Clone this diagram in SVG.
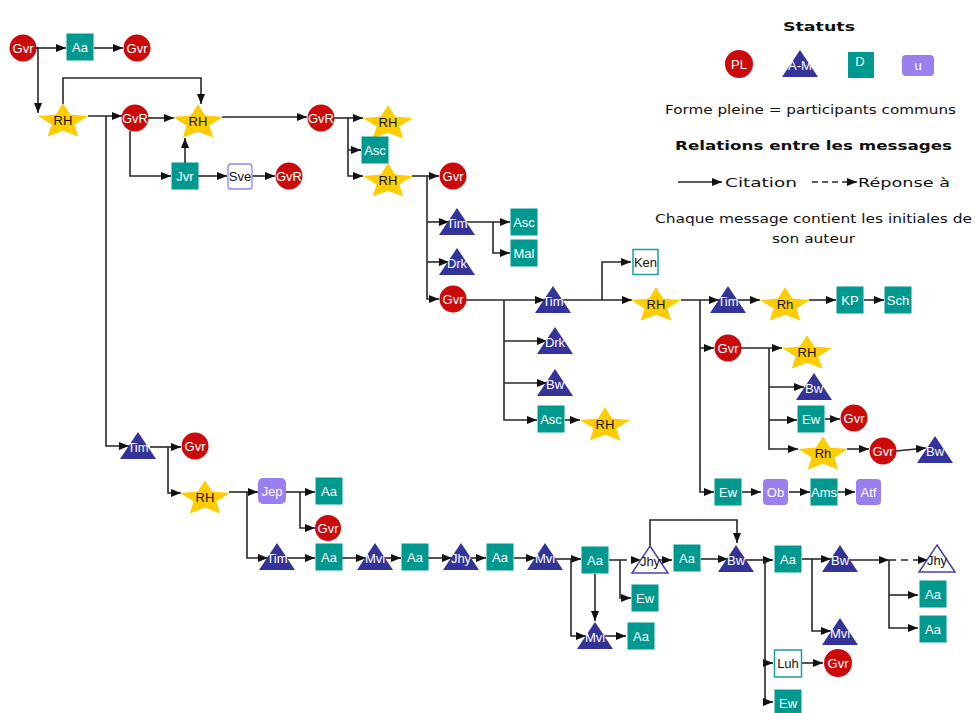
<svg xmlns="http://www.w3.org/2000/svg" xmlns:xlink="http://www.w3.org/1999/xlink" width="975" height="713" viewBox="0 0 975 713">
<style>
.e{fill:none;stroke:#2d2626;stroke-width:1.6;marker-end:url(#ah)}
.d{stroke-dasharray:7 5}
.c{fill:#cc0a0a}
.s{fill:#00998f}
.t{fill:#333399}
.p{fill:#9980ee}
.y{fill:#ffcc00}
.h{fill:#fff;stroke:#4444aa;stroke-width:1.5}
.w{fill:#fff;stroke:#1a9e9e;stroke-width:1.5}
.v{fill:#fff;stroke:#8888ff;stroke-width:1.3}
text{font-family:"Liberation Sans",Arial,sans-serif;font-size:13px;text-anchor:middle}
.lw{fill:#fff}
.lb{fill:#111}
.g{font-family:"DejaVu Sans","Noto Sans",sans-serif;fill:#111;text-anchor:start}
</style>
<defs>
<marker id="ah" viewBox="0 0 10 8" refX="10" refY="4" markerWidth="10" markerHeight="8" markerUnits="userSpaceOnUse" orient="auto"><path d="M0,0 L10,4 L0,8 Z" fill="#111"/></marker>
<path id="star" d="M0,-16.8 L7.1,-5.6 L25,-3.9 L11.4,4.5 L15.2,16.5 L0,10.7 L-15.2,16.5 L-11.4,4.5 L-25,-3.9 L-7.1,-5.6 Z"/>
<path id="tri" d="M0,-14 L18,13 L-18,13 Z"/>
<rect id="sq" x="-13.5" y="-13.5" width="27" height="27"/>
</defs>

<g id="connectors">
<path class="e" d="M36,48 H66"/>
<path class="e" d="M94,48 H123"/>
<path class="e" d="M36,48 H38 V113"/>
<path class="e" d="M63,104 V78 H201 V104"/>
<path class="e" d="M88,116 H122"/>
<path class="e" d="M148,118 H174"/>
<path class="e" d="M130,131 V176 H171"/>
<path class="e" d="M185,163 V138"/>
<path class="e" d="M198,176 H227"/>
<path class="e" d="M252,176 H275"/>
<path class="e" d="M222,117 H307"/>
<path class="e" d="M106,116 V446 H129"/>
<path class="e" d="M334,118 H363"/>
<path class="e" d="M348,118 V176 H363"/>
<path class="e" d="M348,150 H361"/>
<path class="e" d="M412,176 H439"/>
<path class="e" d="M427,176 V299 H439"/>
<path class="e" d="M427,222 H449"/>
<path class="e" d="M427,262 H449"/>
<path class="e" d="M466,222 H510"/>
<path class="e" d="M493,222 V253 H510"/>
<path class="e" d="M466,300 H545"/>
<path class="e" d="M504,300 V420 H537"/>
<path class="e" d="M504,341 H547"/>
<path class="e" d="M504,383 H547"/>
<path class="e" d="M565,420 H580"/>
<path class="e" d="M562,300 H632"/>
<path class="e" d="M602,300 V262 H631"/>
<path class="e" d="M681,300 H719"/>
<path class="e" d="M700,300 V492 H714"/>
<path class="e" d="M700,348 H714"/>
<path class="e" d="M737,300 H760"/>
<path class="e" d="M809,300 H836"/>
<path class="e" d="M864,300 H884"/>
<path class="e" d="M741,348 H782"/>
<path class="e" d="M769,348 V449 H798"/>
<path class="e" d="M769,387 H804"/>
<path class="e" d="M769,420 H797"/>
<path class="e" d="M825,419 H840"/>
<path class="e" d="M847,449 H869"/>
<path class="e" d="M896,451 L926,448"/>
<path class="e" d="M742,492 H761"/>
<path class="e" d="M789,492 H810"/>
<path class="e" d="M838,492 H855"/>
<path class="e" d="M150,447 H181"/>
<path class="e" d="M168,447 V493 H181"/>
<path class="e" d="M229,492 H258"/>
<path class="e" d="M247,492 V558 H268"/>
<path class="e" d="M286,492 H315"/>
<path class="e" d="M300,492 V528 H315"/>
<path class="e" d="M287,558 H315"/>
<path class="e" d="M342,558 H366"/>
<path class="e" d="M384,558 H401"/>
<path class="e" d="M428,558 H452"/>
<path class="e" d="M470,558 H486"/>
<path class="e" d="M514,558 H536"/>
<path class="e" d="M554,559 H581"/>
<path class="e" d="M571,559 V636 H586"/>
<path class="e" d="M595,574 V621"/>
<path class="e" d="M604,636 H626"/>
<path class="e" d="M609,560 H620 V598 H631"/>
<path class="e d" d="M620,560 H641"/>
<path class="e" d="M659,560 H672"/>
<path class="e" d="M650,546 V520 H737 V543"/>
<path class="e" d="M701,559 H728"/>
<path class="e" d="M746,560 H773"/>
<path class="e" d="M765,560 V702 H773"/>
<path class="e" d="M765,663 H773"/>
<path class="e" d="M802,663 H823"/>
<path class="e" d="M802,559 H831"/>
<path class="e" d="M812,559 V631 H831"/>
<path class="e" d="M849,560 H889"/>
<path class="e d" d="M889,560 H928"/>
<path class="e" d="M889,560 V628 H918"/>
<path class="e" d="M889,595 H918"/>
</g>

<g id="n1"><circle class="c" cx="23" cy="48" r="13.5"/><text class="lw" x="23" y="52.5">Gvr</text></g>
<g id="n2"><use href="#sq" class="s" x="80" y="47"/><text class="lw" x="80" y="51.5">Aa</text></g>
<g id="n3"><circle class="c" cx="137" cy="48" r="13.5"/><text class="lw" x="137" y="52.5">Gvr</text></g>
<g id="n4"><use href="#star" class="y" x="63" y="120"/><text class="lb" x="63" y="125">RH</text></g>
<g id="n5"><circle class="c" cx="135" cy="118" r="13.5"/><text class="lw" x="135" y="122.5">GvR</text></g>
<g id="n6"><use href="#star" class="y" x="198" y="121"/><text class="lb" x="198" y="126">RH</text></g>
<g id="n7"><use href="#sq" class="s" x="185" y="176"/><text class="lw" x="185" y="180.5">Jvr</text></g>
<g id="n8"><rect class="v" x="228" y="164" width="24" height="25" rx="3"/><text class="lb" x="240" y="180.5">Sve</text></g>
<g id="n9"><circle class="c" cx="289" cy="176" r="13.5"/><text class="lw" x="289" y="180.5">GvR</text></g>
<g id="n10"><circle class="c" cx="321" cy="118" r="13.5"/><text class="lw" x="321" y="122.5">GvR</text></g>
<g id="n11"><use href="#star" class="y" x="388" y="122"/><text class="lb" x="388" y="127">RH</text></g>
<g id="n12"><use href="#sq" class="s" x="375" y="150"/><text class="lw" x="375" y="154.5">Asc</text></g>
<g id="n13"><use href="#star" class="y" x="388" y="180"/><text class="lb" x="388" y="185">RH</text></g>
<g id="n14"><circle class="c" cx="453" cy="176" r="13.5"/><text class="lw" x="453" y="180.5">Gvr</text></g>
<g id="n15"><use href="#tri" class="t" x="457" y="222"/><text class="lw" x="457" y="228">Tim</text></g>
<g id="n16"><use href="#sq" class="s" x="524" y="222"/><text class="lw" x="524" y="226.5">Asc</text></g>
<g id="n17"><use href="#sq" class="s" x="524" y="253"/><text class="lw" x="524" y="257.5">Mal</text></g>
<g id="n18"><use href="#tri" class="t" x="457" y="262"/><text class="lw" x="457" y="268">Drk</text></g>
<g id="n19"><circle class="c" cx="453" cy="299" r="13.5"/><text class="lw" x="453" y="303.5">Gvr</text></g>
<g id="n20"><use href="#tri" class="t" x="553" y="300"/><text class="lw" x="553" y="306">Tim</text></g>
<g id="n21"><rect class="w" x="633" y="249.5" width="25" height="25"/><text class="lb" x="645.5" y="266.5">Ken</text></g>
<g id="n22"><use href="#star" class="y" x="656" y="304"/><text class="lb" x="656" y="309">RH</text></g>
<g id="n23"><use href="#tri" class="t" x="555" y="341"/><text class="lw" x="555" y="347">Drk</text></g>
<g id="n24"><use href="#tri" class="t" x="555" y="383"/><text class="lw" x="555" y="389">Bw</text></g>
<g id="n25"><use href="#sq" class="s" x="551" y="419"/><text class="lw" x="551" y="423.5">Asc</text></g>
<g id="n26"><use href="#star" class="y" x="605" y="424"/><text class="lb" x="605" y="429">RH</text></g>
<g id="n27"><use href="#tri" class="t" x="728" y="300"/><text class="lw" x="728" y="306">Tim</text></g>
<g id="n28"><use href="#star" class="y" x="785" y="304"/><text class="lb" x="785" y="309">Rh</text></g>
<g id="n29"><use href="#sq" class="s" x="850" y="300"/><text class="lw" x="850" y="304.5">KP</text></g>
<g id="n30"><use href="#sq" class="s" x="898" y="300"/><text class="lw" x="898" y="304.5">Sch</text></g>
<g id="n31"><circle class="c" cx="728" cy="348" r="13.5"/><text class="lw" x="728" y="352.5">Gvr</text></g>
<g id="n32"><use href="#star" class="y" x="807" y="352"/><text class="lb" x="807" y="357">RH</text></g>
<g id="n33"><use href="#tri" class="t" x="814" y="387"/><text class="lw" x="814" y="393">Bw</text></g>
<g id="n34"><use href="#sq" class="s" x="811" y="419"/><text class="lw" x="811" y="423.5">Ew</text></g>
<g id="n35"><circle class="c" cx="854" cy="418" r="13.5"/><text class="lw" x="854" y="422.5">Gvr</text></g>
<g id="n36"><use href="#star" class="y" x="823" y="453"/><text class="lb" x="823" y="458">Rh</text></g>
<g id="n37"><circle class="c" cx="883" cy="451" r="13.5"/><text class="lw" x="883" y="455.5">Gvr</text></g>
<g id="n38"><use href="#tri" class="t" x="935" y="450"/><text class="lw" x="935" y="456">Bw</text></g>
<g id="n39"><use href="#sq" class="s" x="728" y="492"/><text class="lw" x="728" y="496.5">Ew</text></g>
<g id="n40"><rect class="p" x="763" y="479" width="25" height="26" rx="4"/><text class="lw" x="775.5" y="496.5">Ob</text></g>
<g id="n41"><use href="#sq" class="s" x="824" y="492"/><text class="lw" x="824" y="496.5">Ams</text></g>
<g id="n42"><rect class="p" x="856" y="479" width="25" height="26" rx="4"/><text class="lw" x="868.5" y="496.5">Atf</text></g>
<g id="n43"><use href="#tri" class="t" x="138" y="446"/><text class="lw" x="138" y="452">Tim</text></g>
<g id="n44"><circle class="c" cx="195" cy="446" r="13.5"/><text class="lw" x="195" y="450.5">Gvr</text></g>
<g id="n45"><use href="#star" class="y" x="205" y="497"/><text class="lb" x="205" y="502">RH</text></g>
<g id="n46"><rect class="p" x="258" y="478" width="28" height="26" rx="5"/><text class="lw" x="272" y="495.5">Jep</text></g>
<g id="n47"><use href="#sq" class="s" x="329" y="491"/><text class="lw" x="329" y="495.5">Aa</text></g>
<g id="n48"><circle class="c" cx="328" cy="528" r="13"/><text class="lw" x="328" y="532.5">Gvr</text></g>
<g id="n49"><use href="#tri" class="t" x="277" y="557"/><text class="lw" x="277" y="563">Tim</text></g>
<g id="n50"><use href="#sq" class="s" x="329" y="557"/><text class="lw" x="329" y="561.5">Aa</text></g>
<g id="n51"><use href="#tri" class="t" x="375" y="557"/><text class="lw" x="375" y="563">Mvi</text></g>
<g id="n52"><use href="#sq" class="s" x="415" y="557"/><text class="lw" x="415" y="561.5">Aa</text></g>
<g id="n53"><use href="#tri" class="t" x="461" y="557"/><text class="lw" x="461" y="563">Jhy</text></g>
<g id="n54"><use href="#sq" class="s" x="500" y="557"/><text class="lw" x="500" y="561.5">Aa</text></g>
<g id="n55"><use href="#tri" class="t" x="545" y="557"/><text class="lw" x="545" y="563">Mvi</text></g>
<g id="n56"><use href="#sq" class="s" x="595" y="560"/><text class="lw" x="595" y="564.5">Aa</text></g>
<g id="n57"><use href="#tri" class="t" x="595" y="636"/><text class="lw" x="595" y="642">Mvi</text></g>
<g id="n58"><use href="#sq" class="s" x="641" y="636"/><text class="lw" x="641" y="640.5">Aa</text></g>
<g id="n59"><use href="#sq" class="s" x="645" y="598"/><text class="lw" x="645" y="602.5">Ew</text></g>
<g id="n60"><use href="#tri" class="h" x="650" y="560"/><text class="lb" x="650" y="566">Jhy</text></g>
<g id="n61"><use href="#sq" class="s" x="687" y="558"/><text class="lw" x="687" y="562.5">Aa</text></g>
<g id="n62"><use href="#tri" class="t" x="736" y="559"/><text class="lw" x="736" y="565">Bw</text></g>
<g id="n63"><use href="#sq" class="s" x="788" y="559"/><text class="lw" x="788" y="563.5">Aa</text></g>
<g id="n64"><rect class="w" x="774.5" y="650" width="27" height="27"/><text class="lb" x="788" y="668">Luh</text></g>
<g id="n65"><circle class="c" cx="838" cy="663" r="14"/><text class="lw" x="838" y="667.5">Gvr</text></g>
<g id="n66"><use href="#sq" class="s" x="788" y="703"/><text class="lw" x="788" y="707.5">Ew</text></g>
<g id="n67"><use href="#tri" class="t" x="840" y="632"/><text class="lw" x="840" y="638">Mvi</text></g>
<g id="n68"><use href="#tri" class="t" x="840" y="559"/><text class="lw" x="840" y="565">Bw</text></g>
<g id="n69"><use href="#tri" class="h" x="937" y="559"/><text class="lb" x="937" y="565">Jhy</text></g>
<g id="n70"><use href="#sq" class="s" x="933" y="594"/><text class="lw" x="933" y="598.5">Aa</text></g>
<g id="n71"><use href="#sq" class="s" x="933" y="629"/><text class="lw" x="933" y="633.5">Aa</text></g>

<g id="legend">
<text class="g" x="783" y="31" font-size="16" font-weight="bold" textLength="72" lengthAdjust="spacingAndGlyphs">Statuts</text>
<circle class="c" cx="739" cy="64" r="14"/><text class="lw" x="739" y="68.5">PL</text>
<use href="#tri" class="t" x="800" y="64"/><text class="lw" x="800" y="70">A-M</text>
<rect class="s" x="848" y="52" width="26" height="26"/><text class="lw" x="860" y="66">D</text>
<rect class="p" x="902" y="55" width="32" height="21" rx="4"/><text class="lw" x="918" y="70">u</text>
<text class="g" x="665" y="114" font-size="14" textLength="291" lengthAdjust="spacingAndGlyphs">Forme pleine = participants communs</text>
<text class="g" x="675" y="150" font-size="16" font-weight="bold" textLength="277" lengthAdjust="spacingAndGlyphs">Relations entre les messages</text>
<path class="e" d="M678,182 H722"/>
<text class="g" x="725" y="187" font-size="17" textLength="72" lengthAdjust="spacingAndGlyphs">Citation</text>
<path class="e d" d="M812,182 H857" style="stroke-dasharray:6 4"/>
<text class="g" x="858" y="187" font-size="17" textLength="92" lengthAdjust="spacingAndGlyphs">Réponse à</text>
<text class="g" x="655" y="223" font-size="14" textLength="317" lengthAdjust="spacingAndGlyphs">Chaque message contient les initiales de</text>
<text class="g" x="772" y="243" font-size="14" textLength="83" lengthAdjust="spacingAndGlyphs">son auteur</text>
</g>
</svg>
